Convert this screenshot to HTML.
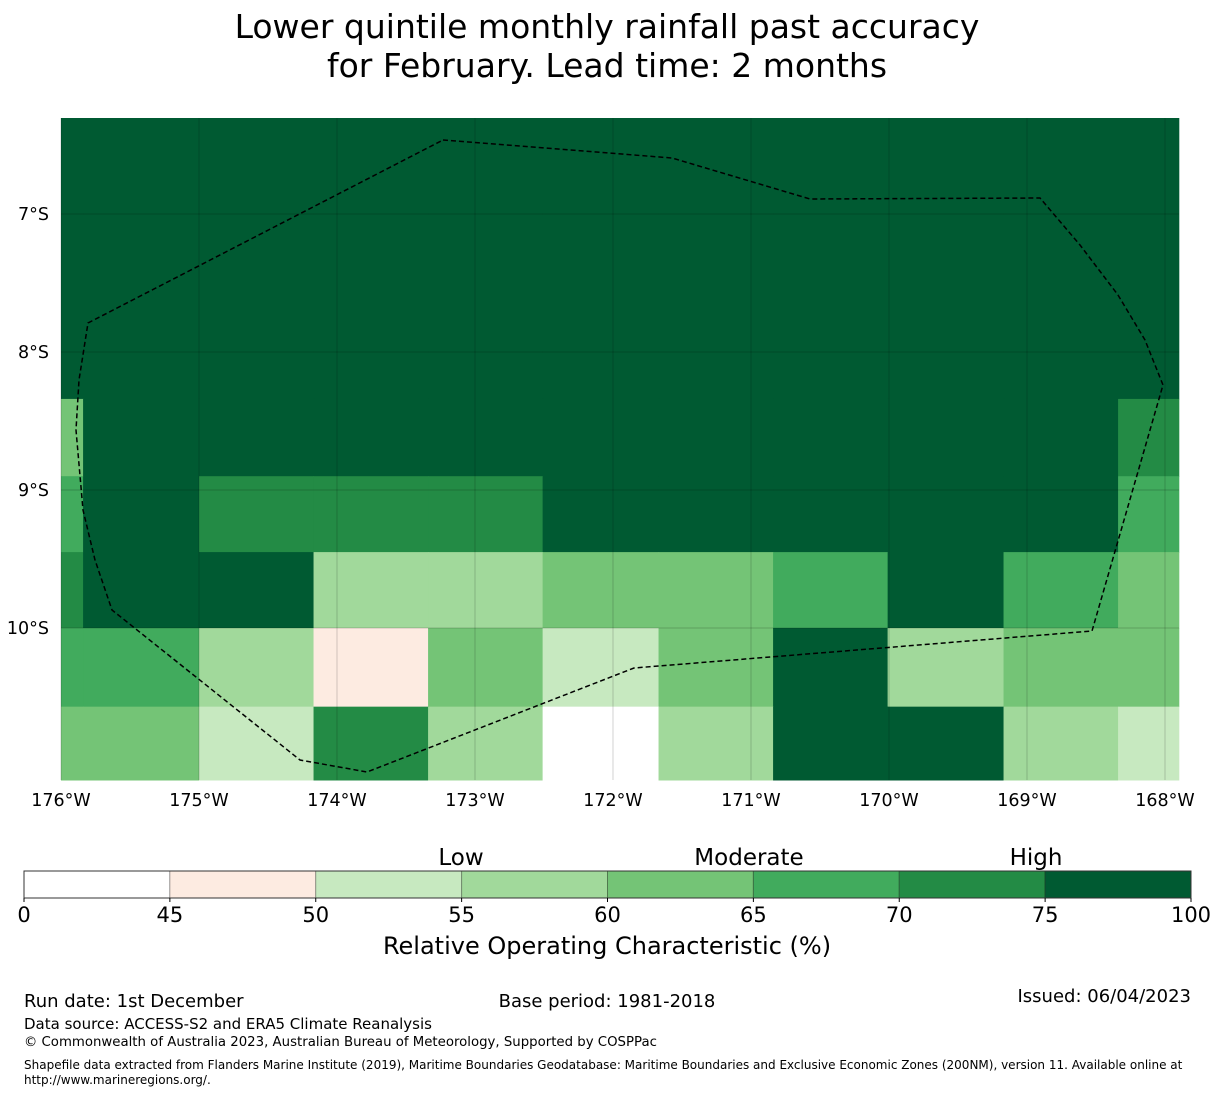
<!DOCTYPE html>
<html><head><meta charset="utf-8"><style>
body{margin:0;background:#fff;font-family:"DejaVu Sans","Liberation Sans",sans-serif;}
svg text{font-family:"DejaVu Sans","Liberation Sans",sans-serif;}
</style></head><body>
<svg id="chart" width="1215" height="1095" viewBox="0 0 1215 1095" xmlns="http://www.w3.org/2000/svg">
<text x="607" y="38" font-size="33" text-anchor="middle">Lower quintile monthly rainfall past accuracy</text>
<text x="607" y="77" font-size="33" text-anchor="middle">for February. Lead time: 2 months</text>
<g id="cells"></g>
<g id="grid"></g>
<g id="ticks"></g>
<polyline fill="none" stroke="#000" stroke-width="1.5" stroke-dasharray="5,3" points="443,140 672,158 810,199 1040,198 1080,245 1118,295 1145,340 1163,385 1092,631 634,668 367,772 300,760 112,610 95,560 83,510 76,430 79,380 88,323 443,140"/>
<g id="cbar"></g>
<text x="461" y="865" font-size="23" text-anchor="middle">Low</text>
<text x="749" y="865" font-size="23" text-anchor="middle">Moderate</text>
<text x="1036" y="865" font-size="23" text-anchor="middle">High</text>
<text x="607" y="954" font-size="24" text-anchor="middle">Relative Operating Characteristic (%)</text>
<text x="24" y="1007" font-size="18">Run date: 1st December</text>
<text x="607" y="1007" font-size="18" text-anchor="middle">Base period: 1981-2018</text>
<text x="1191" y="1002" font-size="18" text-anchor="end">Issued: 06/04/2023</text>
<text x="24" y="1029" font-size="15">Data source: ACCESS-S2 and ERA5 Climate Reanalysis</text>
<text x="24" y="1046" font-size="13.3">© Commonwealth of Australia 2023, Australian Bureau of Meteorology, Supported by COSPPac</text>
<text x="24" y="1069" font-size="12">Shapefile data extracted from Flanders Marine Institute (2019), Maritime Boundaries Geodatabase: Maritime Boundaries and Exclusive Economic Zones (200NM), version 11. Available online at</text>
<text x="24" y="1084" font-size="12">http://www.marineregions.org/.</text>
</svg>
<script>
const lonEdges=[-176,-175.84,-175,-174.17,-173.34,-172.51,-171.67,-170.84,-170.01,-169.17,-168.34,-167.9];
const latEdges=[-6.3,-8.34,-8.9,-9.45,-10.0,-10.57,-11.12];
const rocValues=[
 [80,80,80,80,80,80,80,80,80,80,80],
 [62,80,80,80,80,80,80,80,80,80,72],
 [67,80,72,72,72,80,80,80,80,80,67],
 [72,80,80,57,57,62,62,67,80,67,62],
 [67,67,57,47,62,52,62,80,57,62,62],
 [62,62,52,72,57,30,57,80,80,57,52]
];
const levels=[0,45,50,55,60,65,70,75,100];
const levelColors=["#ffffff","#fdebe1","#c7e9c0","#a1d99b","#74c476","#41ab5d","#238b45","#005a32"];
const lonTicks=[-176,-175,-174,-173,-172,-171,-170,-169,-168];
const latTicks=[-7,-8,-9,-10];
const NS="http://www.w3.org/2000/svg";
const X0=61,X1=1179,Y0=118,Y1=780;
const xs=lon=>61+(lon+176)*138;
const ys=lat=>214+(-7-lat)*138;
function col(v){for(let i=0;i<levelColors.length;i++){if(v<levels[i+1])return levelColors[i];}return levelColors[levelColors.length-1];}
function mk(tag,at,parent){const e=document.createElementNS(NS,tag);for(const k in at)e.setAttribute(k,at[k]);parent.appendChild(e);return e;}
const cells=document.getElementById('cells');
rocValues.forEach((row,r)=>row.forEach((v,c)=>{
 const x=Math.max(X0,xs(lonEdges[c])),x2=Math.min(X1,xs(lonEdges[c+1]));
 const y=Math.max(Y0,ys(latEdges[r])),y2=Math.min(Y1,ys(latEdges[r+1]));
 const e=mk('rect',{x:x,y:y,width:x2-x+0.5,height:y2-y+0.5,fill:col(v)},cells);
 
 
}));
const grid=document.getElementById('grid'),ticks=document.getElementById('ticks');
lonTicks.forEach(l=>{const x=xs(l);
 const g=mk('line',{x1:x,x2:x,y1:Y0,y2:Y1,stroke:'#000','stroke-opacity':0.25,'stroke-width':0.7},grid);
 
 
 const t=mk('text',{x:x,y:806,'font-size':17.5,'text-anchor':'middle'},ticks);t.textContent=Math.abs(l)+'°W';
 
 
});
latTicks.forEach(l=>{const y=ys(l);
 const g=mk('line',{x1:X0,x2:X1,y1:y,y2:y,stroke:'#000','stroke-opacity':0.25,'stroke-width':0.7},grid);
 
 
 const t=mk('text',{x:49,y:y+6,'font-size':17.5,'text-anchor':'end'},ticks);t.textContent=Math.abs(l)+'°S';
 
 
});
const cb=document.getElementById('cbar');
const CX0=24,CX1=1191,CY=871,CH=27;const seg=(CX1-CX0)/levelColors.length;
levelColors.forEach((c,i)=>{
 const e=mk('rect',{x:CX0+i*seg,y:CY,width:seg,height:CH,fill:c,stroke:'rgba(0,0,0,0.3)','stroke-width':1},cb);
 
 
});
mk('rect',{x:CX0,y:CY,width:CX1-CX0,height:CH,fill:'none',stroke:'#333','stroke-width':1},cb);
levels.forEach((v,i)=>{const x=CX0+i*seg;
 mk('line',{x1:x,x2:x,y1:CY+CH,y2:CY+CH+4,stroke:'#000'},cb);
 const t=mk('text',{x:x,y:922,'font-size':21,'text-anchor':'middle'},cb);t.textContent=v;
 
 
});
</script>
</body></html>
